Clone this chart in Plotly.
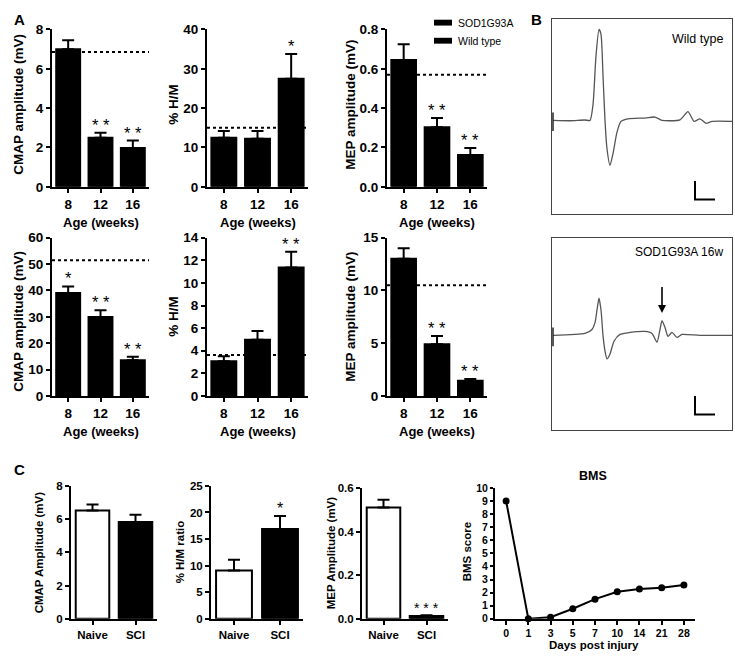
import plotly.graph_objects as go

W, H = 735, 662
FONT = "Arial, 'Liberation Sans', sans-serif"

# ---------------- data ----------------
AGES = ["8", "12", "16"]

# Panel A, row 1
CMAP1_MEAN = [7.0, 2.5, 1.97]
CMAP1_SEM = [0.45, 0.25, 0.38]
CMAP1_WT = 6.86
CMAP1_STARS = ["", "* *", "* *"]

HM1_MEAN = [12.5, 12.2, 27.5]
HM1_SEM = [1.7, 2.0, 6.25]
HM1_WT = 15.0
HM1_STARS = ["", "", "*"]

MEP1_MEAN = [0.645, 0.303, 0.162]
MEP1_SEM = [0.08, 0.047, 0.036]
MEP1_WT = 0.57
MEP1_STARS = ["", "* *", "* *"]

# Panel A, row 2
CMAP2_MEAN = [39.0, 29.9, 13.5]
CMAP2_SEM = [2.5, 2.6, 1.4]
CMAP2_WT = 51.4
CMAP2_STARS = ["*", "* *", "* *"]

HM2_MEAN = [3.07, 4.97, 11.35]
HM2_SEM = [0.45, 0.78, 1.4]
HM2_WT = 3.62
HM2_STARS = ["", "", "* *"]

MEP2_MEAN = [13.0, 4.9, 1.45]
MEP2_SEM = [1.0, 0.78, 0.16]
MEP2_WT = 10.5
MEP2_STARS = ["", "* *", "* *"]

# Panel C
GROUPS = ["Naive", "SCI"]
CMAPC_MEAN = [6.52, 5.83]
CMAPC_SEM = [0.36, 0.43]
CMAPC_STARS = ["", ""]
HMC_MEAN = [9.1, 16.9]
HMC_SEM = [2.0, 2.45]
HMC_STARS = ["", "*"]
MEPC_MEAN = [0.51, 0.013]
MEPC_SEM = [0.036, 0.003]
MEPC_STARS = ["", "* * *"]

BMS_DAYS = ["0", "1", "3", "5", "7", "10", "14", "21", "28"]
BMS_SCORE = [9.0, 0.0, 0.12, 0.77, 1.5, 2.07, 2.27, 2.38, 2.58]

# Panel B waveforms (time units, amplitude units)
WT_T = [0.05, 0.9, 1.65, 1.9, 2.05, 2.2, 2.35, 2.45, 2.55, 2.65, 2.75, 2.9, 3.05,
        3.25, 3.45, 3.8, 4.65, 5.15, 5.5, 6.4, 6.8, 7.1, 7.4, 7.7, 8.0, 9.0]
WT_V = [0.0, -0.02, 0.02, 0.0, 0.8, 3.3, 4.65, 4.4, 2.3, 0.0, -1.45, -2.3, -1.7,
        -0.6, -0.05, 0.08, 0.12, 0.17, 0.0, 0.03, 0.45, -0.05, 0.08, -0.15, -0.05, -0.05]
SOD_T = [0.05, 1.65, 2.0, 2.15, 2.25, 2.35, 2.45, 2.55, 2.65, 2.75, 2.9, 3.1, 3.4,
         3.9, 4.65, 5.0, 5.25, 5.4, 5.5, 5.65, 5.8, 6.0, 6.25, 6.5, 7.4, 9.0]
SOD_V = [0.0, 0.1, 0.3, 0.65, 1.3, 1.9, 1.3, 0.0, -0.8, -1.2, -0.95, -0.3, 0.05,
         0.15, 0.2, 0.1, -0.35, 0.3, 0.75, 0.4, -0.05, 0.15, -0.1, 0.05, 0.0, 0.0]
STIM_T = [0.05, 0.05]
STIM_V = [0.4, -0.55]
SCALE_T = [7.15, 7.15, 8.15]
SCALE_V = [-3.1, -4.05, -4.05]
ARROW_T = 5.5
ARROW_V = [2.55, 1.15]


def px_x(a, b):
    return [a / W, b / W]


def px_y(top, bottom):
    return [1 - bottom / H, 1 - top / H]


fig = go.Figure()
layout = dict(
    width=W, height=H, margin=dict(l=0, r=0, t=0, b=0),
    paper_bgcolor="white", plot_bgcolor="white", showlegend=False,
    font=dict(family=FONT, color="black"),
)
annotations = []
shapes = []


def add_axes(n, xd, yd, yrange, dtick, fmt, cats, tsize):
    sx = "" if n == 1 else str(n)
    layout["xaxis" + sx] = dict(
        domain=px_x(*xd), anchor="y" + sx, type="category",
        range=[-0.5, len(cats) - 0.5], showline=True, linewidth=2, linecolor="black",
        ticks="outside", ticklen=4, tickwidth=2, tickcolor="black",
        showgrid=False, zeroline=False, fixedrange=True,
        tickfont=dict(family=FONT, size=tsize, weight="bold", color="black"),
    )
    layout["yaxis" + sx] = dict(
        domain=px_y(*yd), anchor="x" + sx, range=yrange, dtick=dtick, tick0=0,
        tickformat=fmt, showline=True, linewidth=2, linecolor="black",
        ticks="outside", ticklen=4, tickwidth=2, tickcolor="black",
        showgrid=False, zeroline=False, fixedrange=True,
        tickfont=dict(family=FONT, size=tsize, weight="bold", color="black"),
    )


def add_bars(n, cats, mean, sem, stars, fills, width, star_size):
    sx = "" if n == 1 else str(n)
    fig.add_trace(go.Bar(
        x=cats, y=mean, xaxis="x" + sx, yaxis="y" + sx, width=width,
        marker=dict(color=fills, line=dict(color="black", width=2)),
        error_y=dict(type="data", array=sem, arrayminus=[0] * len(sem), symmetric=False,
                     color="black", thickness=2, width=6),
    ))
    for i, (m, s, st) in enumerate(zip(mean, sem, stars)):
        if st:
            annotations.append(dict(
                x=i, y=m + s, xref="x" + sx, yref="y" + sx, text=st, showarrow=False,
                yanchor="bottom", yshift=-3, font=dict(family=FONT, size=star_size, color="black"),
            ))


def add_wt(n, val):
    sx = "" if n == 1 else str(n)
    shapes.append(dict(
        type="line", xref="x" + sx + " domain", yref="y" + sx, x0=0, x1=1, y0=val, y1=val,
        line=dict(color="black", width=2, dash="dot"), layer="below",
    ))


def title_y(text, cx, cy, size):
    annotations.append(dict(x=cx / W, y=1 - cy / H, xref="paper", yref="paper", text=text,
                            textangle=-90, showarrow=False, xanchor="center", yanchor="middle",
                            font=dict(family=FONT, size=size, weight="bold", color="black")))


def title_x(text, cx, cy, size):
    annotations.append(dict(x=cx / W, y=1 - cy / H, xref="paper", yref="paper", text=text,
                            showarrow=False, xanchor="center", yanchor="middle",
                            font=dict(family=FONT, size=size, weight="bold", color="black")))


# ---------------- Panel A ----------------
ROW1 = (23, 184)
ROW2 = (236, 398)
COLS = [(52, 149), (207, 308), (387, 487)]
TS = 13.5
SS = 16.5
black3 = ["black"] * 3

add_axes(1, COLS[0], ROW1, [0, 8], 2, None, AGES, TS)
add_bars(1, AGES, CMAP1_MEAN, CMAP1_SEM, CMAP1_STARS, black3, 0.74, SS)
add_wt(1, CMAP1_WT)
add_axes(2, COLS[1], ROW1, [0, 40], 10, None, AGES, TS)
add_bars(2, AGES, HM1_MEAN, HM1_SEM, HM1_STARS, black3, 0.74, SS)
add_wt(2, HM1_WT)
add_axes(3, COLS[2], ROW1, [0, 0.8], 0.2, ".1f", AGES, TS)
add_bars(3, AGES, MEP1_MEAN, MEP1_SEM, MEP1_STARS, black3, 0.74, SS)
add_wt(3, MEP1_WT)
add_axes(4, COLS[0], ROW2, [0, 60], 10, None, AGES, TS)
add_bars(4, AGES, CMAP2_MEAN, CMAP2_SEM, CMAP2_STARS, black3, 0.74, SS)
add_wt(4, CMAP2_WT)
add_axes(5, COLS[1], ROW2, [0, 14], 2, None, AGES, TS)
add_bars(5, AGES, HM2_MEAN, HM2_SEM, HM2_STARS, black3, 0.74, SS)
add_wt(5, HM2_WT)
add_axes(6, COLS[2], ROW2, [0, 15], 5, None, AGES, TS)
add_bars(6, AGES, MEP2_MEAN, MEP2_SEM, MEP2_STARS, black3, 0.74, SS)
add_wt(6, MEP2_WT)

for (cx, t) in [(19, "CMAP amplitude (mV)"), (174, "% H/M"), (351, "MEP amplitude (mV)")]:
    title_y(t, cx, 100, 13.5)
title_y("CMAP amplitude (mV)", 19, 322, 13.5)
title_y("% H/M", 174, 317, 13.5)
title_y("MEP amplitude (mV)", 351, 317, 13.5)
for cx in (101, 258, 437):
    title_x("Age (weeks)", cx, 220, 13)
    title_x("Age (weeks)", cx, 434, 13)

# legend
for ty, name in [(16, "SOD1G93A"), (34.5, "Wild type")]:
    shapes.append(dict(type="rect", xref="paper", yref="paper", x0=434 / W, x1=452 / W,
                       y0=1 - (ty + 3) / H, y1=1 - (ty - 3) / H, fillcolor="black",
                       line=dict(width=0)))
    annotations.append(dict(x=456 / W, y=1 - ty / H, xref="paper", yref="paper", text=name,
                            showarrow=False, xanchor="left", yanchor="middle",
                            font=dict(family=FONT, size=10.5, color="black")))

# ---------------- Panel C ----------------
ROWC = (490, 626)
TC = 11.5
wb = ["white", "black"]
add_axes(7, (71, 157), ROWC, [0, 8], 2, None, GROUPS, TC)
add_bars(7, GROUPS, CMAPC_MEAN, CMAPC_SEM, CMAPC_STARS, wb, 0.78, 16)
add_axes(8, (211, 303), ROWC, [0, 25], 5, None, GROUPS, TC)
add_bars(8, GROUPS, HMC_MEAN, HMC_SEM, HMC_STARS, wb, 0.78, 16)
add_axes(9, (362, 448), (492, 626), [0, 0.6], 0.2, ".1f", GROUPS, TC)
add_bars(9, GROUPS, MEPC_MEAN, MEPC_SEM, MEPC_STARS, wb, 0.78, 14)
title_y("CMAP Amplitude (mV)", 39, 558, 11.5)
title_y("% H/M ratio", 180, 558, 11.5)
title_y("MEP Amplitude (mV)", 331, 559, 11.5)

# BMS
add_axes(10, (495, 695), (492, 626), [0, 10], 1, None, BMS_DAYS, 10.5)
layout["yaxis10"]["ticklen"] = 3
fig.add_trace(go.Scatter(x=BMS_DAYS, y=BMS_SCORE, xaxis="x10", yaxis="y10", mode="lines+markers",
                         line=dict(color="black", width=2), marker=dict(color="black", size=7),
                         cliponaxis=False))
title_x("BMS", 593, 480, 12.5)
title_x("Days post injury", 594, 653, 11.5)
title_y("BMS score", 467, 558, 11.5)

# ---------------- Panel B ----------------
for n, yd, yr in [(11, (12, 212), [-4.8, 5.2]), (12, (236, 433), [-4.85, 5.0])]:
    layout["xaxis%d" % n] = dict(domain=px_x(552, 732), anchor="y%d" % n, range=[0, 9],
                                 showline=True, mirror=True, linecolor="#444", linewidth=1,
                                 showticklabels=False, ticks="", showgrid=False, zeroline=False,
                                 fixedrange=True)
    layout["yaxis%d" % n] = dict(domain=px_y(*yd), anchor="x%d" % n, range=yr,
                                 showline=True, mirror=True, linecolor="#444", linewidth=1,
                                 showticklabels=False, ticks="", showgrid=False, zeroline=False,
                                 fixedrange=True)

for n, t, v in [(11, WT_T, WT_V), (12, SOD_T, SOD_V)]:
    fig.add_trace(go.Scatter(x=t, y=v, xaxis="x%d" % n, yaxis="y%d" % n, mode="lines",
                             line=dict(color="#555", width=1.3, shape="spline", smoothing=0.6)))
    fig.add_trace(go.Scatter(x=STIM_T, y=STIM_V, xaxis="x%d" % n, yaxis="y%d" % n, mode="lines",
                             line=dict(color="#222", width=1.5)))
    fig.add_trace(go.Scatter(x=SCALE_T, y=SCALE_V, xaxis="x%d" % n, yaxis="y%d" % n, mode="lines",
                             line=dict(color="black", width=2)))

annotations.append(dict(x=ARROW_T, y=ARROW_V[1], ax=ARROW_T, ay=ARROW_V[0], xref="x12", yref="y12",
                        axref="x12", ayref="y12", showarrow=True, arrowhead=2, arrowsize=1,
                        arrowwidth=1.6, arrowcolor="black", text=""))
annotations.append(dict(x=725 / W, y=1 - 33 / H, xref="paper", yref="paper", text="Wild type",
                        showarrow=False, xanchor="right", yanchor="middle",
                        font=dict(family=FONT, size=12.5, color="black")))
annotations.append(dict(x=725 / W, y=1 - 251 / H, xref="paper", yref="paper", text="SOD1G93A 16w",
                        showarrow=False, xanchor="right", yanchor="middle",
                        font=dict(family=FONT, size=12, color="black")))

# panel letters
for letter, cx, cy in [("A", 19, 13), ("B", 536, 13), ("C", 19, 473)]:
    annotations.append(dict(x=cx / W, y=1 - cy / H, xref="paper", yref="paper", text=letter,
                            showarrow=False, xanchor="center", yanchor="middle",
                            font=dict(family=FONT, size=15, weight="bold", color="black")))

layout["annotations"] = annotations
layout["shapes"] = shapes
fig.update_layout(**layout)
fig.write_html("out.html", config={"displayModeBar": False},
               post_script="document.body.style.margin='0';document.body.style.overflow='hidden';")
